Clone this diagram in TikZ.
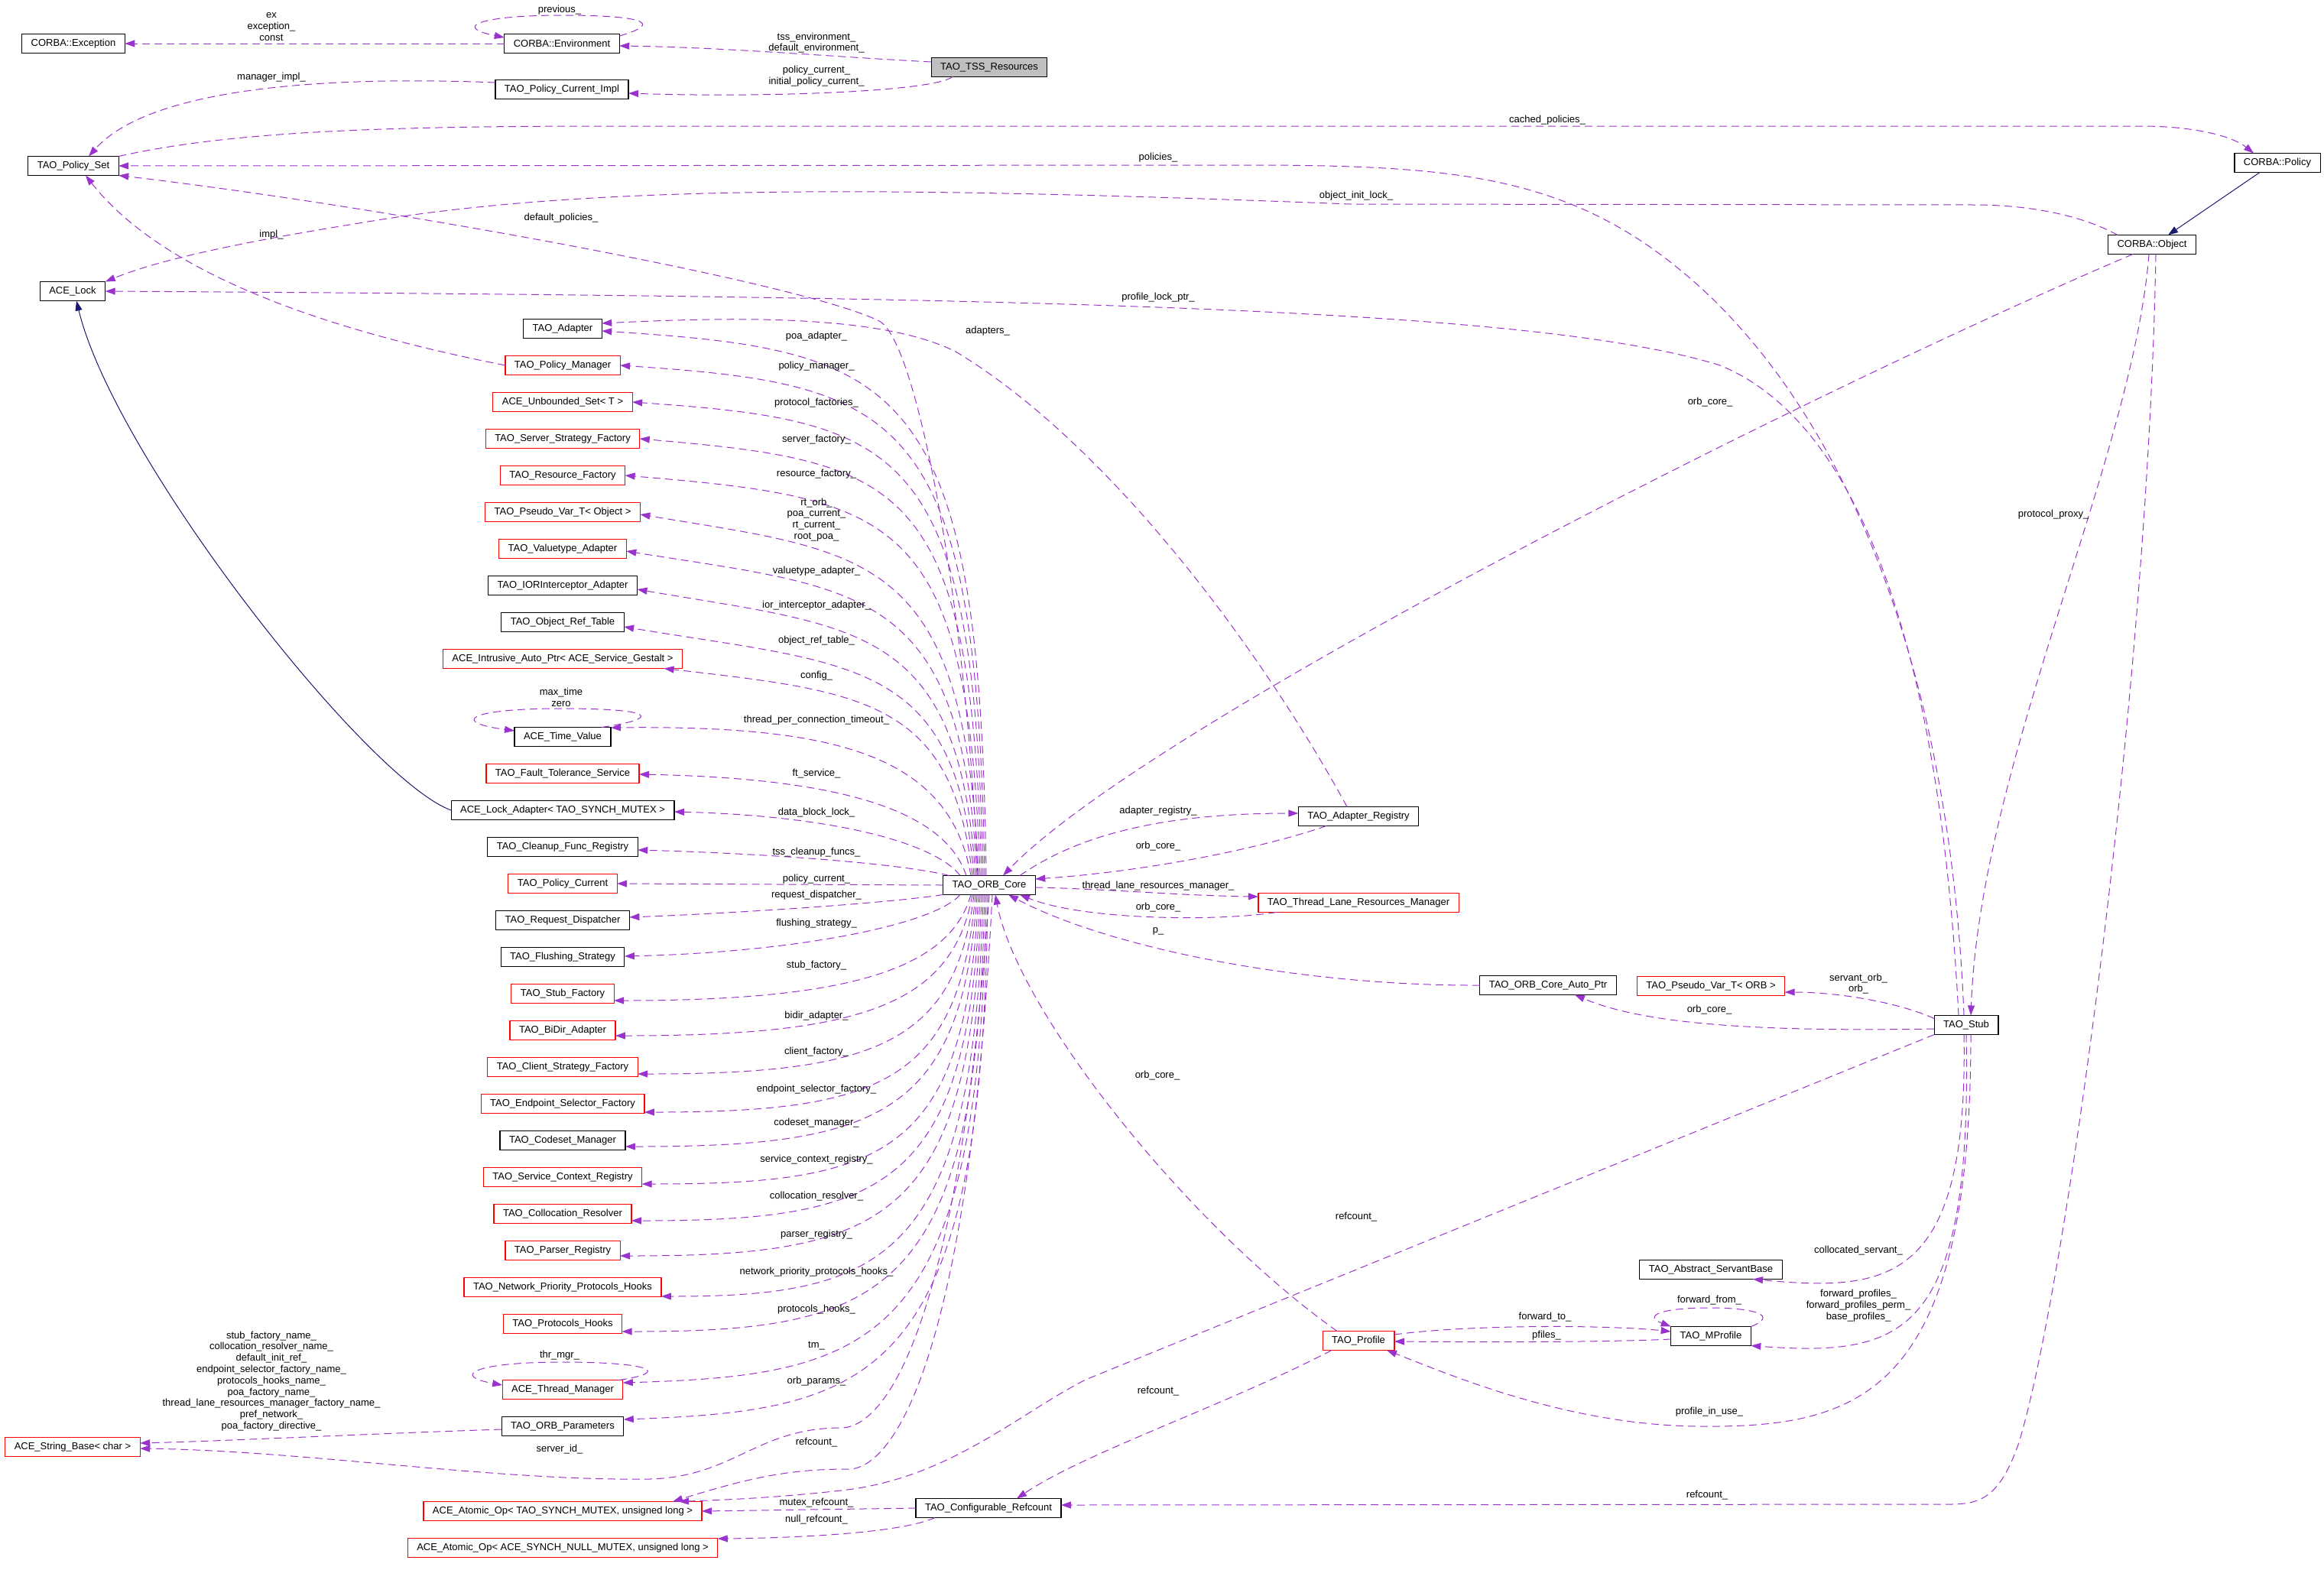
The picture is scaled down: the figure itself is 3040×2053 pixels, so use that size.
\documentclass[tikz,border=0pt]{standalone}
\usepackage{fontspec}
\setmainfont{Liberation Sans}
\usetikzlibrary{arrows.meta,positioning,calc}
\definecolor{edgepurple}{HTML}{9A32CD}
\definecolor{inhblue}{HTML}{191970}
\definecolor{boxred}{HTML}{FF0000}
\definecolor{rootgray}{HTML}{BFBFBF}

\begin{document}
\begin{tikzpicture}[
    x=1pt, y=-1pt,
    every node/.style={font=\fontsize{13}{14.8}\selectfont},
    cls/.style={rectangle, draw=black, line width=1.2pt, outer sep=0pt,
                minimum height=25pt, inner xsep=12pt, inner ysep=2pt},
    rcls/.style={cls, draw=boxred},
    rootcls/.style={cls, fill=rootgray},
    rel/.style={-{Triangle[length=13pt,width=9pt]}, draw=edgepurple,
                line width=1pt, dash pattern=on 10pt off 6pt},
    inh/.style={-{Triangle[length=13pt,width=9pt]}, draw=inhblue, line width=1pt},
    lab/.style={align=center, inner sep=0pt}
]
\useasboundingbox (0,0) rectangle (3040,2053);

% top and left classes
\node[cls] (exc) at (96,57) {CORBA::Exception};
\node[cls] (env) at (735,57) {CORBA::Environment};
\node[rootcls] (tss) at (1294,88) {TAO\_TSS\_Resources};
\node[cls] (pci) at (735,117) {TAO\_Policy\_Current\_Impl};
\node[cls] (pset) at (96,217) {TAO\_Policy\_Set};
\node[cls] (lock) at (95,381) {ACE\_Lock};
\node[cls] (policy) at (2979,213) {CORBA::Policy};
\node[cls] (obj) at (2815,320) {CORBA::Object};
\node[rcls] (strb) at (95,1893) {ACE\_String\_Base< char >};

% members of the ORB core
\node[cls] (adapter) at (736,430) {TAO\_Adapter};
\node[rcls, below=23pt of adapter] (polmgr) {TAO\_Policy\_Manager};
\node[rcls, below=23pt of polmgr] (uset) {ACE\_Unbounded\_Set< T >};
\node[rcls, below=23pt of uset] (ssf) {TAO\_Server\_Strategy\_Factory};
\node[rcls, below=23pt of ssf] (resf) {TAO\_Resource\_Factory};
\node[rcls, below=23pt of resf] (pvobj) {TAO\_Pseudo\_Var\_T< Object >};
\node[rcls, below=23pt of pvobj] (vta) {TAO\_Valuetype\_Adapter};
\node[cls, below=23pt of vta] (iora) {TAO\_IORInterceptor\_Adapter};
\node[cls, below=23pt of iora] (ort) {TAO\_Object\_Ref\_Table};
\node[rcls, below=23pt of ort] (iap) {ACE\_Intrusive\_Auto\_Ptr< ACE\_Service\_Gestalt >};
\node[cls, below=77pt of iap] (tv) {ACE\_Time\_Value};
\node[rcls, below=23pt of tv] (fts) {TAO\_Fault\_Tolerance\_Service};
\node[cls, below=23pt of fts] (lad) {ACE\_Lock\_Adapter< TAO\_SYNCH\_MUTEX >};
\node[cls, below=23pt of lad] (cfr) {TAO\_Cleanup\_Func\_Registry};
\node[rcls, below=23pt of cfr] (pcur) {TAO\_Policy\_Current};
\node[cls, below=23pt of pcur] (rdis) {TAO\_Request\_Dispatcher};
\node[cls, below=23pt of rdis] (fls) {TAO\_Flushing\_Strategy};
\node[rcls, below=23pt of fls] (stf) {TAO\_Stub\_Factory};
\node[rcls, below=23pt of stf] (bidir) {TAO\_BiDir\_Adapter};
\node[rcls, below=23pt of bidir] (csf) {TAO\_Client\_Strategy\_Factory};
\node[rcls, below=23pt of csf] (esf) {TAO\_Endpoint\_Selector\_Factory};
\node[cls, below=23pt of esf] (csm) {TAO\_Codeset\_Manager};
\node[rcls, below=23pt of csm] (scr) {TAO\_Service\_Context\_Registry};
\node[rcls, below=23pt of scr] (colr) {TAO\_Collocation\_Resolver};
\node[rcls, below=23pt of colr] (parr) {TAO\_Parser\_Registry};
\node[rcls, below=23pt of parr] (nph) {TAO\_Network\_Priority\_Protocols\_Hooks};
\node[rcls, below=23pt of nph] (phk) {TAO\_Protocols\_Hooks};
\node[rcls, below=61pt of phk] (thrm) {ACE\_Thread\_Manager};
\node[cls, below=23pt of thrm] (orbp) {TAO\_ORB\_Parameters};
\node[rcls, below=86pt of orbp] (aop1) {ACE\_Atomic\_Op< TAO\_SYNCH\_MUTEX, unsigned long >};
\node[rcls, below=23pt of aop1] (aop2) {ACE\_Atomic\_Op< ACE\_SYNCH\_NULL\_MUTEX, unsigned long >};

% centre and right classes
\node[cls] (core) at (1294,1158) {TAO\_ORB\_Core};
\node[cls] (areg) at (1777,1068) {TAO\_Adapter\_Registry};
\node[rcls] (tlrm) at (1777,1181) {TAO\_Thread\_Lane\_Resources\_Manager};
\node[cls] (cap) at (2025,1289) {TAO\_ORB\_Core\_Auto\_Ptr};
\node[rcls] (pvorb) at (2238,1290) {TAO\_Pseudo\_Var\_T< ORB >};
\node[cls] (stub) at (2572,1341) {TAO\_Stub};
\node[cls] (asb) at (2238,1661) {TAO\_Abstract\_ServantBase};
\node[cls] (mprof) at (2238,1748) {TAO\_MProfile};
\node[rcls] (prof) at (1777,1754) {TAO\_Profile};
\node[cls] (cref) at (1293,1973) {TAO\_Configurable\_Refcount};

% inheritance
\draw[inh] ([xshift=-23pt]policy.south) -- ([xshift=21pt]obj.north);
\draw[inh] (lad.west) .. controls (480,1020) and (150,600) .. ([xshift=5pt]lock.south);

% top area
\draw[rel] (env.west) -- (exc.east);
\node[lab] (lex) at (355,35) {ex\\exception\_\\const};
\draw[rel] ([yshift=10pt]env.east) .. controls (870,30) and (840,20) .. (735,20)
    .. controls (630,20) and (590,35) .. ([yshift=8pt]env.west);
\node[lab] (lprev) at (732,13) {previous\_};
\draw[rel] ([yshift=7pt]tss.west) .. controls (1100,75) and (950,62) .. ([yshift=-3pt]env.east);
\node[lab] (ltssenv) at (1068,56) {tss\_environment\_\\default\_environment\_};
\draw[rel] ([xshift=-48pt]tss.south) .. controls (1220,120) and (1000,128) .. ([yshift=-5pt]pci.east);
\node[lab] (lpolcur) at (1068,100) {policy\_current\_\\initial\_policy\_current\_};
\draw[rel] ([yshift=9pt]pci.west) .. controls (450,100) and (200,110) .. ([xshift=20pt]pset.north);
\node[lab] (lmgr) at (355,101) {manager\_impl\_};

% long edges across the top
\draw[rel] (pset.north east) .. controls (300,172) and (500,165) .. (800,165) -- (2800,165)
    .. controls (2870,165) and (2920,178) .. ([xshift=-31pt]policy.north);
\node[lab] (lcached) at (2024,157) {cached\_policies\_};
\draw[rel] ([xshift=-3pt]stub.north) .. controls (2550,850) and (2400,520) .. (2200,355)
    .. controls (2050,230) and (1900,217) .. (1650,216) -- (pset.east);
\node[lab] (lpolicies) at (1515,206) {policies\_};
\draw[rel] ([xshift=-45pt]obj.north) .. controls (2720,280) and (2650,268) .. (2582,268) -- (1766,267)
    .. controls (1200,245) and (800,240) .. (500,287)
    .. controls (350,311) and (220,335) .. (lock.north east);
\node[lab] (linit) at (1774,256) {object\_init\_lock\_};
\draw[rel] ([xshift=-10pt]stub.north) .. controls (2540,900) and (2450,560) .. (2250,478)
    .. controls (2000,400) and (1300,388) .. (lock.east);
\node[lab] (lplock) at (1515,389) {profile\_lock\_ptr\_};
\draw[rel] ([xshift=-25pt]obj.south) .. controls (2350,520) and (1500,950) .. ([xshift=18pt]core.north);
\node[lab] (lorbobj) at (2237,526) {orb\_core\_};
\draw[rel] ([xshift=-4pt]obj.south) .. controls (2790,600) and (2590,1000) .. ([xshift=6pt]stub.north);
\node[lab] (lproxy) at (2686,673) {protocol\_proxy\_};
\draw[rel] ([xshift=5pt]obj.south) .. controls (2810,900) and (2700,1700) .. (2640,1890)
    .. controls (2615,1960) and (2590,1968) .. (2550,1968) -- ([yshift=4pt]cref.east);
\node[lab] (lrefobj) at (2233,1956) {refcount\_};
\draw[rel] ([xshift=-15pt]areg.north) .. controls (1650,850) and (1450,580) .. (1250,460)
    .. controls (1150,410) and (950,415) .. ([yshift=7pt]adapter.east);
\node[lab] (ladapters) at (1292,433) {adapters\_};
\draw[rel] ([xshift=-15pt]core.north) .. controls (1265,800) and (1200,445) .. (1150,420)
    .. controls (1050,370) and (500,270) .. (pset.south east);
\node[lab] (ldefpol) at (734,285) {default\_policies\_};
\draw[rel] (polmgr.west) .. controls (500,446) and (230,380) .. ([xshift=16pt]pset.south);
\node[lab] (limpl) at (355,307) {impl\_};

% ORB core fan, upper half
\draw[rel] ([xshift=-4pt]core.north) .. controls +(-8,-655) and +(390,25) .. ([yshift=-3pt]adapter.east);
\draw[rel] ([xshift=-6pt]core.north) .. controls +(-10,-610) and +(370,25) .. (polmgr.east);
\draw[rel] ([xshift=-8pt]core.north) .. controls +(-12,-565) and +(355,25) .. (uset.east);
\draw[rel] ([xshift=-10pt]core.north) .. controls +(-14,-520) and +(345,30) .. (ssf.east);
\draw[rel] ([xshift=-12pt]core.north) .. controls +(-16,-475) and +(355,30) .. (resf.east);
\draw[rel] ([xshift=-14pt]core.north) .. controls +(-18,-425) and +(300,50) .. ([yshift=-3pt]pvobj.east);
\draw[rel] ([xshift=-16pt]core.north) .. controls +(-20,-380) and +(310,50) .. ([yshift=-3pt]vta.east);
\draw[rel] ([xshift=-18pt]core.north) .. controls +(-22,-330) and +(290,50) .. ([yshift=-5pt]iora.east);
\draw[rel] ([xshift=-20pt]core.north) .. controls +(-24,-285) and +(300,50) .. ([yshift=-6pt]ort.east);
\draw[rel] ([xshift=-22pt]core.north) .. controls +(-26,-230) and +(260,30) .. ([xshift=-24pt]iap.south east);
\draw[rel] ([xshift=-24pt]core.north) .. controls +(-28,-160) and +(290,-3) .. ([yshift=12pt]tv.east);
\draw[rel] ([xshift=-12pt]tv.north east) .. controls (865,940) and (860,927) .. (734,927)
    .. controls (610,927) and (590,945) .. ([yshift=8pt]tv.west);
\draw[rel] ([xshift=-30pt]core.north) .. controls +(-30,-90) and +(250,5) .. ([yshift=-1pt]fts.east);
\draw[rel] ([xshift=-38pt]core.north) .. controls +(-35,-45) and +(200,5) .. ([yshift=-2pt]lad.east);
\draw[rel] ([xshift=8pt]core.north west) .. controls +(-60,-15) and +(180,5) .. ([yshift=-4pt]cfr.east);
\draw[rel] (core.west) -- (pcur.east);

\node[lab] (lpoa) at (1068,440) {poa\_adapter\_};
\node[lab] (lpolmgr) at (1068,479) {policy\_manager\_};
\node[lab] (lprotf) at (1068,527) {protocol\_factories\_};
\node[lab] (lserverf) at (1068,575) {server\_factory\_};
\node[lab] (lresf) at (1068,620) {resource\_factory\_};
\node[lab] (lrtorb) at (1068,680) {rt\_orb\_\\poa\_current\_\\rt\_current\_\\root\_poa\_};
\node[lab] (lvta) at (1068,747) {valuetype\_adapter\_};
\node[lab] (liora) at (1068,792) {ior\_interceptor\_adapter\_};
\node[lab] (lort) at (1068,838) {object\_ref\_table\_};
\node[lab] (lconfig) at (1068,884) {config\_};
\node[lab] (ltv) at (734,912) {max\_time\\zero};
\node[lab] (ltpct) at (1068,942) {thread\_per\_connection\_timeout\_};
\node[lab] (lfts) at (1068,1012) {ft\_service\_};
\node[lab] (llad) at (1068,1063) {data\_block\_lock\_};
\node[lab] (lcfr) at (1068,1115) {tss\_cleanup\_funcs\_};
\node[lab] (lpcur) at (1068,1150) {policy\_current\_};

% ORB core fan, lower half
\draw[rel] (core.south west) .. controls +(-80,12) and +(130,-5) .. ([yshift=4pt]rdis.east);
\draw[rel] ([xshift=-38pt]core.south) .. controls +(-35,40) and +(220,-5) .. ([yshift=1pt]fls.east);
\draw[rel] ([xshift=-24pt]core.south) .. controls +(-28,100) and +(300,0) .. ([yshift=-9pt]stf.east);
\draw[rel] ([xshift=-22pt]core.south) .. controls +(-26,145) and +(320,0) .. ([yshift=-7pt]bidir.east);
\draw[rel] ([xshift=-20pt]core.south) .. controls +(-24,195) and +(310,0) .. ([yshift=-9pt]csf.east);
\draw[rel] ([xshift=-18pt]core.south) .. controls +(-22,245) and +(310,0) .. ([yshift=-11pt]esf.east);
\draw[rel] ([xshift=-16pt]core.south) .. controls +(-20,290) and +(330,0) .. ([yshift=-8pt]csm.east);
\draw[rel] ([xshift=-14pt]core.south) .. controls +(-18,340) and +(320,0) .. ([yshift=-9pt]scr.east);
\draw[rel] ([xshift=-12pt]core.south) .. controls +(-16,385) and +(330,0) .. ([yshift=-9pt]colr.east);
\draw[rel] ([xshift=-10pt]core.south) .. controls +(-14,430) and +(345,0) .. ([yshift=-7pt]parr.east);
\draw[rel] ([xshift=-8pt]core.south) .. controls +(-12,480) and +(290,0) .. ([yshift=-12pt]nph.east);
\draw[rel] ([xshift=-6pt]core.south) .. controls +(-10,525) and +(345,0) .. ([yshift=-10pt]phk.east);
\draw[rel] ([xshift=-4pt]core.south) .. controls +(-8,590) and +(330,-10) .. ([yshift=9pt]thrm.east);
\draw[rel] ([xshift=-5pt]thrm.north east) .. controls (880,1795) and (850,1782) .. (735,1782)
    .. controls (620,1782) and (590,1800) .. ([yshift=6pt]thrm.west);
\draw[rel] ([xshift=-2pt]core.south) .. controls +(-6,635) and +(330,-12) .. ([yshift=9pt]orbp.east);
\draw[rel] ([yshift=-4pt]orbp.west) .. controls (500,1875) and (300,1885) .. ([yshift=5pt]strb.east);
\draw[rel] (core.south) .. controls +(-40,560) and +(60,0) .. (1100,1868)
    .. controls (990,1868) and (960,1932) .. (850,1935)
    .. controls (650,1938) and (400,1898) .. ([yshift=-2pt]strb.east);
\draw[rel] ([xshift=4pt]core.south) .. controls +(-30,600) and +(60,0) .. (1110,1922)
    .. controls (1040,1922) and (990,1930) .. ([xshift=-38pt]aop1.north east);
\draw[rel] (stub.south west) -- (1420,1805) .. controls (1330,1851) and (1240,1935) .. (1100,1950)
    .. controls (1010,1960) and (950,1962) .. ([xshift=-30pt]aop1.north east);
\draw[rel] (cref.west) -- (aop1.east);
\draw[rel] ([xshift=-70pt]cref.south) .. controls (1180,2005) and (1050,2012) .. ([yshift=12pt]aop2.east);

\node[lab] (lrdis) at (1068,1171) {request\_dispatcher\_};
\node[lab] (lfls) at (1068,1208) {flushing\_strategy\_};
\node[lab] (lstf) at (1068,1263) {stub\_factory\_};
\node[lab] (lbidir) at (1068,1329) {bidir\_adapter\_};
\node[lab] (lcsf) at (1068,1376) {client\_factory\_};
\node[lab] (lesf) at (1068,1425) {endpoint\_selector\_factory\_};
\node[lab] (lcsm) at (1068,1469) {codeset\_manager\_};
\node[lab] (lscr) at (1068,1517) {service\_context\_registry\_};
\node[lab] (lcolr) at (1068,1565) {collocation\_resolver\_};
\node[lab] (lparr) at (1068,1615) {parser\_registry\_};
\node[lab] (lnph) at (1068,1664) {network\_priority\_protocols\_hooks\_};
\node[lab] (lphk) at (1068,1713) {protocols\_hooks\_};
\node[lab] (lthrmgr) at (732,1773) {thr\_mgr\_};
\node[lab] (ltm) at (1068,1761) {tm\_};
\node[lab] (lorbp) at (1068,1807) {orb\_params\_};
\node[lab] (lnames) at (355,1807) {stub\_factory\_name\_\\collocation\_resolver\_name\_\\default\_init\_ref\_\\endpoint\_selector\_factory\_name\_\\protocols\_hooks\_name\_\\poa\_factory\_name\_\\thread\_lane\_resources\_manager\_factory\_name\_\\pref\_network\_\\poa\_factory\_directive\_};
\node[lab] (lserverid) at (732,1896) {server\_id\_};
\node[lab] (lrefcore) at (1068,1887) {refcount\_};
\node[lab] (lrefstub) at (1774,1592) {refcount\_};
\node[lab] (lmutex) at (1068,1966) {mutex\_refcount\_};
\node[lab] (lnull) at (1068,1988) {null\_refcount\_};

% right of the ORB core
\draw[rel] ([xshift=40pt]core.north) .. controls (1400,1100) and (1500,1064) .. ([yshift=4pt]areg.west);
\node[lab] (lareg) at (1515,1061) {adapter\_registry\_};
\draw[rel] ([xshift=-42pt]areg.south) .. controls (1650,1110) and (1500,1140) .. ([yshift=8pt]core.east);
\node[lab] (lorbareg) at (1515,1107) {orb\_core\_};
\draw[rel] ([yshift=-3pt]core.east) .. controls (1450,1163) and (1550,1172) .. ([yshift=8pt]tlrm.west);
\node[lab] (ltlrm) at (1515,1159) {thread\_lane\_resources\_manager\_};
\draw[rel] ([xshift=-108pt]tlrm.south) .. controls (1600,1205) and (1420,1205) .. ([xshift=40pt]core.south);
\node[lab] (lorbtlrm) at (1515,1187) {orb\_core\_};
\draw[rel] (cap.west) .. controls (1700,1290) and (1450,1240) .. ([xshift=25pt]core.south);
\node[lab] (lp) at (1515,1218) {p\_};
\draw[rel] ([xshift=-28pt]prof.north) .. controls (1550,1600) and (1330,1320) .. ([xshift=8pt]core.south);
\node[lab] (lorbprof) at (1514,1407) {orb\_core\_};

% stub and profiles
\draw[rel] ([yshift=-5pt]stub.west) .. controls (2300,1350) and (2150,1340) .. ([xshift=35pt]cap.south);
\node[lab] (lorbstub) at (2236,1321) {orb\_core\_};
\draw[rel] ([yshift=-4pt]stub.north west) .. controls (2480,1310) and (2400,1298) .. ([yshift=-8pt]pvorb.east);
\node[lab] (lservant) at (2431,1287) {servant\_orb\_\\orb\_};
\draw[rel] ([xshift=-3pt]stub.south) .. controls (2575,1680) and (2470,1690) .. ([xshift=55pt]asb.south);
\node[lab] (lcoll) at (2431,1636) {collocated\_servant\_};
\draw[rel] (stub.south) .. controls (2580,1750) and (2490,1775) .. (mprof.south east);
\node[lab] (lfwd) at (2431,1708) {forward\_profiles\_\\forward\_profiles\_perm\_\\base\_profiles\_};
\draw[rel] ([xshift=6pt]stub.south) .. controls (2578,1830) and (2430,1868) .. (2220,1866)
    .. controls (2050,1864) and (1900,1800) .. ([xshift=37pt]prof.south);
\node[lab] (linuse) at (2236,1847) {profile\_in\_use\_};
\draw[rel] ([yshift=8pt]prof.east) .. controls (1920,1733) and (2100,1733) .. ([yshift=6pt]mprof.west);
\node[lab] (lfwdto) at (2021,1723) {forward\_to\_};
\draw[rel] ([yshift=-4pt]mprof.west) .. controls (2100,1756) and (1950,1756) .. ([yshift=-1pt]prof.east);
\node[lab] (lpfiles) at (2023,1747) {pfiles\_};
\draw[rel] (mprof.north east) .. controls (2325,1722) and (2300,1711) .. (2236,1711)
    .. controls (2170,1711) and (2150,1722) .. (mprof.north west);
\node[lab] (lfwdfrom) at (2236,1701) {forward\_from\_};
\draw[rel] ([xshift=-35pt]prof.south) .. controls (1600,1840) and (1420,1900) .. ([xshift=37pt]cref.north);
\node[lab] (lrefprof) at (1515,1820) {refcount\_};
\end{tikzpicture}
\end{document}
